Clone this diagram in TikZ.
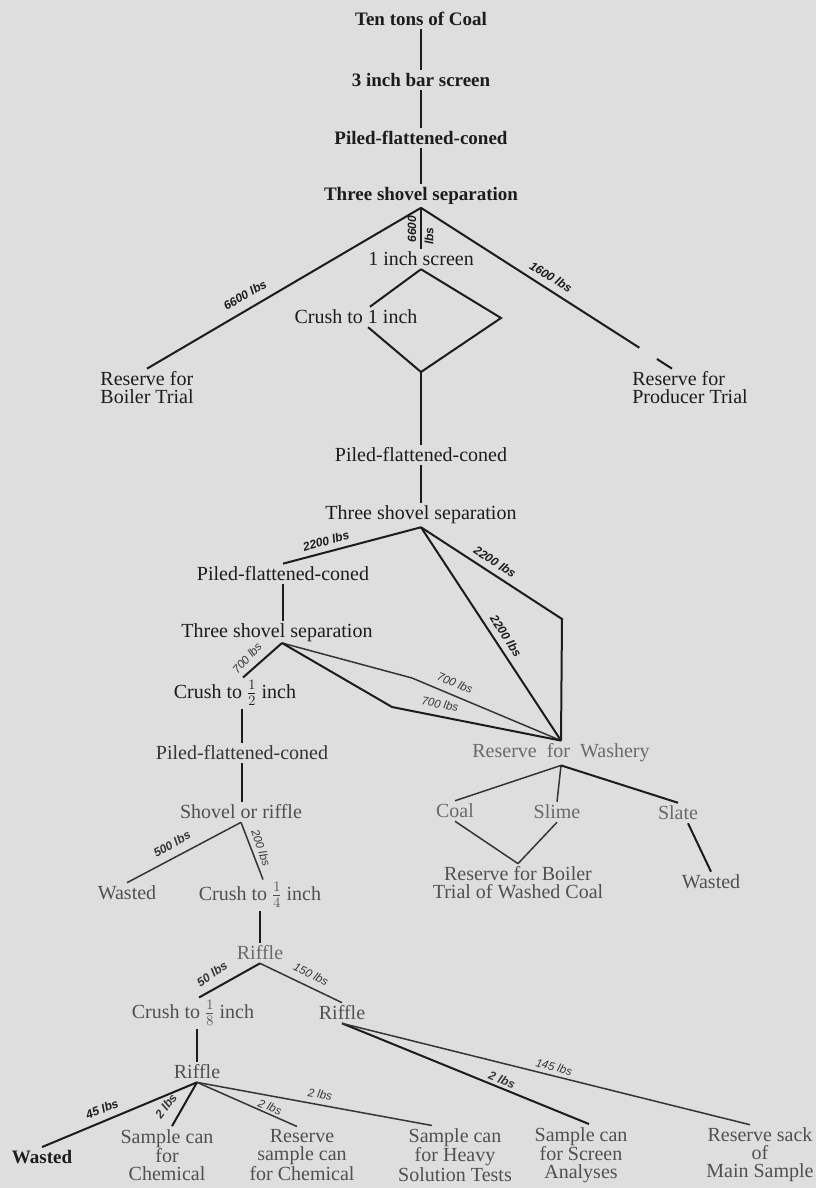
\documentclass[tikz,border=0pt]{standalone}
\usepackage{fontspec}
\setmainfont{Liberation Serif}
\newfontfamily\lblfont{Liberation Sans}
\usetikzlibrary{calc}
\definecolor{bg}{HTML}{DEDEDE}
\definecolor{ink}{HTML}{1C1C1C}
\definecolor{inkb}{HTML}{353535}
\definecolor{inkc}{HTML}{505050}
\definecolor{inkd}{HTML}{6A6A6A}
\tikzset{
  txt/.style={inner sep=3pt, align=center, font=\fontsize{20}{18}\selectfont, text=ink},
  btxt/.style={txt, font=\fontsize{19}{18}\selectfont\bfseries},
  lbl/.style={inner sep=0pt, font=\lblfont\fontsize{12}{12}\selectfont\bfseries\itshape, text=ink},
  lbll/.style={lbl, font=\lblfont\fontsize{11.5}{12}\selectfont\itshape, text=inkb},
  connt/.style={draw=ink, line width=2.6pt},
  conn/.style={draw=ink, line width=2pt},
  connl/.style={draw=inkb, line width=1.5pt},
}
\begin{document}
\begin{tikzpicture}[x=1pt,y=-1pt]
\fill[bg] (0,0) rectangle (816,1188);
\useasboundingbox (0,0) rectangle (816,1188);

% ---- top chain
\node[btxt] (T1) at (421,19) {Ten tons of Coal};
\node[btxt] (T2) at (421,80) {3 inch bar screen};
\node[btxt] (T3) at (421,138) {Piled-flattened-coned};
\node[btxt] (T4) at (421,196) {Three shovel separation};
\node[txt, align=left] (RB) at (147,388) {Reserve for\\Boiler Trial};
\node[txt, align=left] (RP) at (690,388) {Reserve for\\Producer Trial};
\node[txt] (S1) at (421,259) {1 inch screen};
\node[txt] (C1) at (356,317) {Crush to 1 inch};
\coordinate (DR) at (501,318);
\coordinate (DB) at (421,372);
\coordinate (RPt) at ([xshift=-18pt]RP.north);

\draw[connt] (T1) -- (T2);
\draw[connt] (T2) -- (T3);
\draw[connt] (T3) -- (T4);
\draw[conn] (T4.south) -- (RB.north);
\draw[conn] (T4.south) -- ($(T4.south)!0.87!(RPt)$) ($(T4.south)!0.94!(RPt)$) -- (RPt);
\draw[conn] (T4.south) -- (S1.north);
\draw[conn] (S1.south) -- (C1);
\draw[conn] (S1.south) -- (DR) -- (DB);
\draw[conn] (C1) -- (DB);

\node[lbl, rotate=30] at (245,295) {6600 lbs};
\node[lbl, rotate=-32] at (551,277) {1600 lbs};
\node[lbl, rotate=90] at (412,229) {6600};
\node[lbl, rotate=90] at (429,236) {lbs};

% ---- second stage
\node[txt] (P2) at (421,455) {Piled-flattened-coned};
\node[txt] (T5) at (421,515) {Three shovel separation};
\draw[conn] (DB) -- (P2);
\draw[conn] (P2) -- (T5);

\node[txt] (P3) at (283,574) {Piled-flattened-coned};
\node[txt] (T6) at (277,633) {Three shovel separation};
\node[txt, text=inkd] (W) at (561,753) {Reserve~ for~ Washery};
\coordinate (WR) at (562,619);
\draw[conn] (T5.south) -- (P3.north);
\draw[conn] (T5.south) -- (WR) -- (W.north);
\draw[conn] (T5.south) -- (W.north);
\draw[conn] (P3.south) -- (P3.south |- T6.north);

\node[lbl, rotate=16] at (326,541) {2200 lbs};
\node[lbl, rotate=-33] at (495,562) {2200 lbs};
\node[lbl, rotate=-57] at (506,636) {2200 lbs};

% ---- third stage
\coordinate (A6) at (282,643);
\node[txt] (C2) at (235,693) {Crush to \(\frac{1}{2}\) inch};
\coordinate (C2t) at ([xshift=8pt]C2.north);
\coordinate (B1) at (412,678);
\coordinate (B2) at (392,707);
\draw[conn] (A6) -- (C2t);
\draw[connl] (A6) -- (B1) -- (W.north);
\draw[conn] (A6) -- (B2) -- (W.north);
\node[lbll, rotate=48] at (247,658) {700 lbs};
\node[lbll, rotate=-22] at (455,683) {700 lbs};
\node[lbll, rotate=-10] at (440,704) {700 lbs};

\node[txt, text=inkb] (P4) at (242,753) {Piled-flattened-coned};
\draw[conn] (P4.north) -- (P4.north |- C2.south);
\node[txt, text=inkc] (SR) at (241,812) {Shovel or riffle};
\draw[conn] (P4.south) -- (P4.south |- SR.north);

\node[txt, text=inkc] (Wd1) at (127,893) {Wasted};
\node[txt, text=inkc] (C3) at (260,895) {Crush to \(\frac{1}{4}\) inch};
\coordinate (C3t) at ([xshift=3pt]C3.north);
\draw[connl] (SR.south) -- (Wd1.north);
\draw[connl] (SR.south) -- (C3t);
\node[lbl, text=inkb, rotate=30] at (172,844) {500 lbs};
\node[lbll, rotate=-71] at (261,848) {200 lbs};

\node[txt, text=inkd] (R1) at (260,953) {Riffle};
\draw[conn] (R1.north) -- (R1.north |- C3.south);
\node[txt, text=inkc] (C4) at (193,1013) {Crush to \(\frac{1}{8}\) inch};
\node[txt, text=inkc] (R2) at (342,1013) {Riffle};
\coordinate (C4t) at ([xshift=6pt]C4.north);
\draw[conn] (R1.south) -- (C4t);
\draw[connl] (R1.south) -- (R2.north);
\node[lbl, text=inkb, rotate=34] at (212,974) {50 lbs};
\node[lbll, rotate=-27] at (311,974) {150 lbs};

% ---- washery branch
\node[txt, text=inkd] (Coal) at (455,811) {Coal};
\node[txt, text=inkd] (Slime) at (557,812) {Slime};
\node[txt, text=inkd] (Slate) at (678,813) {Slate};
\node[txt, text=inkc] (RW) at (518,883) {Reserve for Boiler\\Trial of Washed Coal};
\node[txt, text=inkc] (Wd3) at (711,882) {Wasted};
\coordinate (SLb) at ([xshift=10pt]Slate.south);
\draw[connl] (W.south) -- (Coal.north);
\draw[connl] (W.south) -- (Slime.north);
\draw[conn] (W.south) -- (Slate.north);
\draw[connl] (Coal.south) -- (RW.north);
\draw[connl] (Slime.south) -- (RW.north);
\draw[conn] (SLb) -- (Wd3.north);

% ---- bottom
\node[txt, text=inkc] (R3) at (197,1072) {Riffle};
\draw[conn] (R3.north) -- (R3.north |- C4.south);
\node[btxt] (W2) at (42,1157) {Wasted};
\node[txt, text=inkc] (SC) at (167,1155) {Sample can\\for\\Chemical};
\node[txt, text=inkc] (RS) at (302,1155) {Reserve\\sample can\\for Chemical};
\node[txt, text=inkc] (SH) at (455,1155) {Sample can\\for Heavy\\Solution Tests};
\node[txt, text=inkc] (SS) at (581,1155) {Sample can\\for Screen\\Analyses};
\node[txt, text=inkc] (RM) at (760,1155) {Reserve sack\\of\\Main Sample};
\coordinate (SCt) at ([xshift=5pt]SC.north);
\coordinate (RSt) at ([xshift=-5pt]RS.north);
\coordinate (SHt) at ([xshift=-23pt]SH.north);
\coordinate (SSt) at ([xshift=8pt]SS.north);
\coordinate (RMt) at ([xshift=-10pt]RM.north);
\draw[conn] (R3.south) -- (W2.north);
\draw[conn] (R3.south) -- (SCt);
\draw[connl] (R3.south) -- (RSt);
\draw[connl] (R3.south) -- (SHt);
\draw[conn] (R2.south) -- (SSt);
\draw[connl] (R2.south) -- (RMt);
\node[lbl, rotate=22] at (102,1109) {45 lbs};
\node[lbl, text=inkb, rotate=53] at (166,1106) {2 lbs};
\node[lbll, rotate=-22] at (270,1107) {2 lbs};
\node[lbll, rotate=-9] at (320,1094) {2 lbs};
\node[lbl, text=inkb, rotate=-23] at (502,1080) {2 lbs};
\node[lbll, rotate=-15] at (554,1067) {145 lbs};
\end{tikzpicture}
\end{document}
